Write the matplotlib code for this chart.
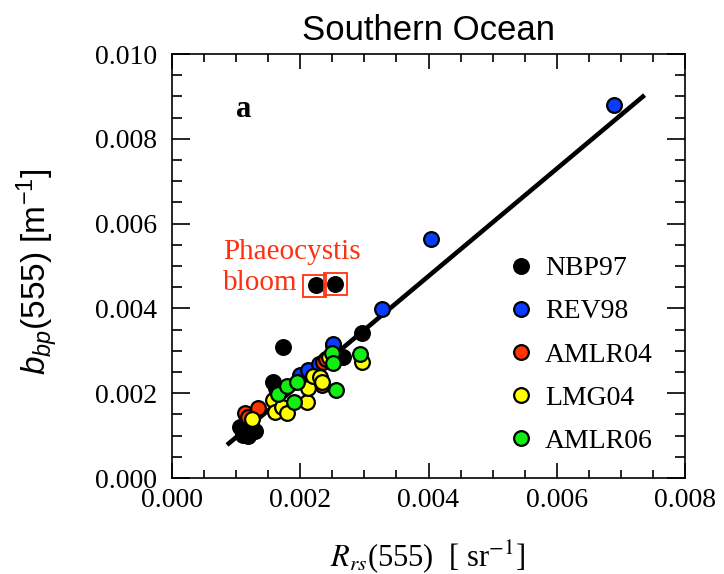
import matplotlib
matplotlib.use("Agg")
import matplotlib.pyplot as plt
from matplotlib.patches import Rectangle
from matplotlib.ticker import MultipleLocator, FormatStrFormatter

plt.rcParams["font.family"] = ["Liberation Serif", "DejaVu Serif"]
plt.rcParams["mathtext.fontset"] = "custom"
plt.rcParams["mathtext.rm"] = "Liberation Sans"
plt.rcParams["mathtext.it"] = "Liberation Sans:italic"

# Rrs(555) [sr^-1], bbp(555) [m^-1] per cruise
nbp97_x = [0.00111, 0.00125, 0.00106, 0.00118, 0.00130, 0.00158, 0.00162, 0.00175,
           0.00200, 0.00251, 0.00267, 0.00296, 0.00173, 0.00225, 0.00254]
nbp97_y = [0.00101, 0.00118, 0.00120, 0.00100, 0.00110, 0.00226, 0.00212, 0.00160,
           0.00235, 0.00313, 0.00286, 0.00342, 0.00309, 0.00455, 0.00458]
rev98_x = [0.00200, 0.00212, 0.00230, 0.00251, 0.00328, 0.00404, 0.00690]
rev98_y = [0.00243, 0.00255, 0.00270, 0.00316, 0.00399, 0.00564, 0.00880]
amlr04_x = [0.00114, 0.00118, 0.00134, 0.00234, 0.00236, 0.00240]
amlr04_y = [0.00153, 0.00145, 0.00165, 0.00220, 0.00274, 0.00280]
lmg04_x = [0.00125, 0.00158, 0.00161, 0.00172, 0.00179, 0.00211, 0.00212, 0.00220,
           0.00231, 0.00234, 0.00245, 0.00296]
lmg04_y = [0.00139, 0.00184, 0.00156, 0.00167, 0.00153, 0.00179, 0.00212, 0.00240,
           0.00238, 0.00226, 0.00285, 0.00274]
amlr06_x = [0.00165, 0.00179, 0.00190, 0.00195, 0.00249, 0.00251, 0.00256, 0.00293]
amlr06_y = [0.00198, 0.00217, 0.00179, 0.00226, 0.00294, 0.00271, 0.00208, 0.00292]

series = [
    ("NBP97", nbp97_x, nbp97_y, "#000000"),
    ("REV98", rev98_x, rev98_y, "#0a3cff"),
    ("AMLR04", amlr04_x, amlr04_y, "#ff3300"),
    ("LMG04", lmg04_x, lmg04_y, "#ffff00"),
    ("AMLR06", amlr06_x, amlr06_y, "#11ee11"),
]

# regression line end points
fit_x = [0.000858, 0.00737]
fit_y = [0.00078, 0.00903]

# Phaeocystis bloom points (boxed)
bloom_x = [0.00222, 0.00255]
bloom_y = [0.00452, 0.00457]

W, H = 724, 574
fig = plt.figure(figsize=(W / 100, H / 100), dpi=100)
ax = fig.add_axes([172 / W, 1 - 478 / H, 513 / W, 424 / H])

ax.plot(fit_x, fit_y, color="black", lw=3.3, solid_capstyle="butt", zorder=2)
for name, xs, ys, col in series:
    ax.plot(xs, ys, "o", ms=10.6, mfc=col, mec="black", mew=1.6, ls="none",
            label=name, zorder=3)

for bx, by in zip(bloom_x, bloom_y):
    ax.add_patch(Rectangle((bx - 0.00018, by - 0.00026), 0.00036, 0.00052,
                           fill=False, ec="#ff3010", lw=1.3, zorder=4))

ax.text(0.00080, 0.00533, "Phaeocystis", color="#ff3010", fontsize=21,
        va="center", ha="left")
ax.text(0.00080, 0.00460, "bloom", color="#ff3010", fontsize=21,
        va="center", ha="left")
ax.text(0.00100, 0.00868, "a", fontsize=22, fontweight="bold", va="center")

ax.set_xlim(0, 0.008)
ax.set_ylim(0, 0.010)
ax.xaxis.set_major_locator(MultipleLocator(0.002))
ax.xaxis.set_minor_locator(MultipleLocator(0.0005))
ax.yaxis.set_major_locator(MultipleLocator(0.002))
ax.yaxis.set_minor_locator(MultipleLocator(0.0005))
ax.xaxis.set_major_formatter(FormatStrFormatter("%.3f"))
ax.yaxis.set_major_formatter(FormatStrFormatter("%.3f"))
ax.tick_params(which="both", direction="in", top=True, right=True, width=1.2,
               labelsize=20)
ax.tick_params(axis="x", which="major", length=11, pad=7)
ax.tick_params(axis="x", which="minor", length=6)
ax.tick_params(axis="y", which="major", length=13, pad=11)
ax.tick_params(axis="y", which="minor", length=7)
for sp in ax.spines.values():
    sp.set_linewidth(1.2)

ax.legend(loc="center left", bbox_to_anchor=(507 / W, 1 - 355 / H),
          bbox_transform=fig.transFigure, frameon=False, fontsize=20,
          handlelength=1.0, handletextpad=0.37, labelspacing=0.64,
          borderpad=0, borderaxespad=0)

fig.text(428 / W, 1 - 30 / H, "Southern Ocean", family="Liberation Sans",
         fontsize=25, ha="center", va="center")
fig.text(38 / W, 1 - 272 / H, r"$b_{bp}$(555) [m$^{-1}$]", family="Liberation Sans",
         math_fontfamily="custom", fontsize=24, rotation=90, ha="center", va="center")
fig.text(428 / W, 1 - 557 / H, r"$R_{rs}$(555)  [ sr$^{-1}$]",
         math_fontfamily="stix", fontsize=22, ha="center", va="center")

fig.savefig("out.png", dpi=100)
